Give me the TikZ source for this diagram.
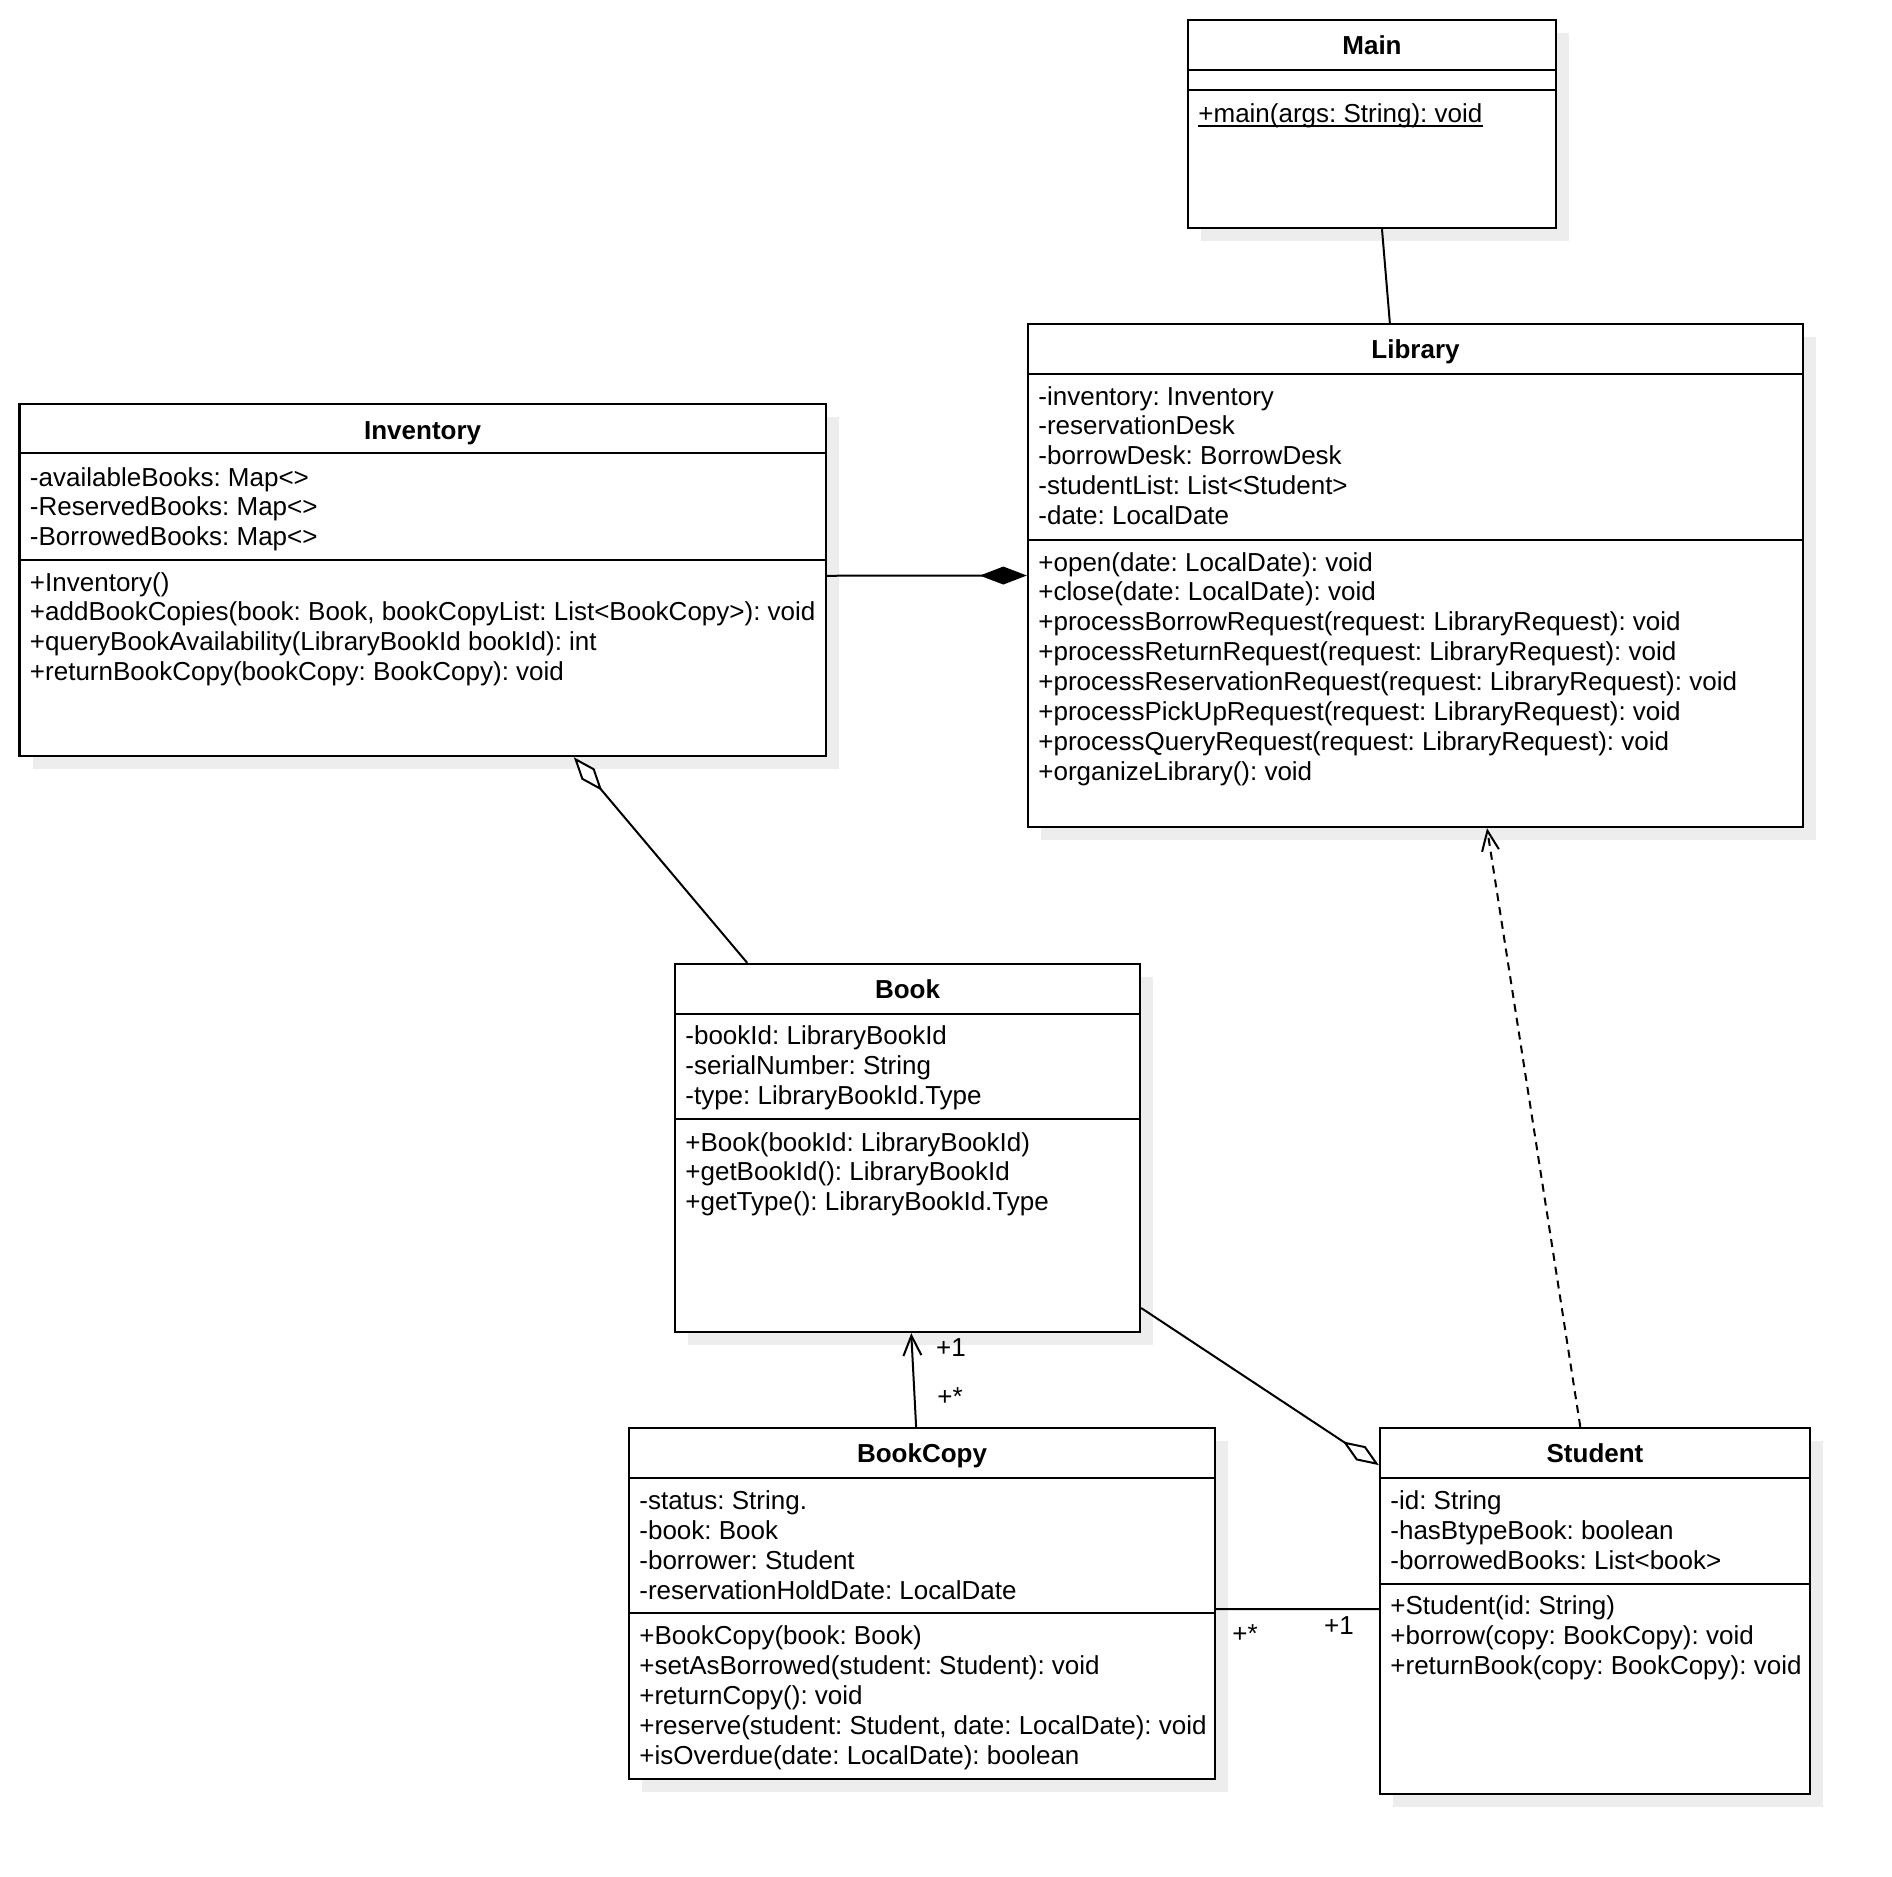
\documentclass[tikz,border=0pt]{standalone}
\usepackage{fontspec}
\setmainfont{Liberation Sans}
\usetikzlibrary{arrows.meta,calc,fit,shadows}
\begin{document}
\frenchspacing
\begin{tikzpicture}[x=0.5pt,y=-0.5pt,
  cbox/.style={draw, line width=1.2pt, fill=white, inner sep=0pt,
    drop shadow={shadow xshift=6.5pt, shadow yshift=-6.5pt, fill=black!7, opacity=1}},
  sepline/.style={line width=1.2pt},
  txt/.style={anchor=base west, inner sep=0pt, font=\fontsize{13pt}{15pt}\selectfont\frenchspacing, yshift=-1pt},
  hdr/.style={anchor=base, inner sep=0pt, font=\fontsize{13pt}{15pt}\selectfont\bfseries, yshift=-1.2pt},
  lbl/.style={inner sep=0pt, font=\fontsize{13pt}{15pt}\selectfont},
  conn/.style={line width=1pt},
  depline/.style={line width=1pt, dash pattern=on 4pt off 3pt}
]
\useasboundingbox (0,0) rectangle (1892,1876);

% ---------- Main ----------
\node[cbox, fit={(1188,20)(1556,228)}] (main) {};
\draw[sepline] (1188,70) -- (1556,70);
\draw[sepline] (1188,90) -- (1556,90);
\node[hdr] (main-h) at (1372,52) {Main};
\node[txt] (main-m1) at (1198,120) {+main(args: String): void};
\draw[line width=1pt] ([yshift=-2.2pt]main-m1.base west) -- ([yshift=-2.2pt]main-m1.base east);

% ---------- Library ----------
\node[cbox, fit={(1028,324)(1803,827)}] (lib) {};
\draw[sepline] (1028,374) -- (1803,374);
\draw[sepline] (1028,540) -- (1803,540);
\node[hdr] (lib-h) at (1415.5,356) {Library};
\node[txt] (lib-a1) at (1038,403) {-inventory: Inventory};
\node[txt] (lib-a2) at (1038,432.8) {-reservationDesk};
\node[txt] (lib-a3) at (1038,462.6) {-borrowDesk: BorrowDesk};
\node[txt] (lib-a4) at (1038,492.4) {-studentList: List<Student>};
\node[txt] (lib-a5) at (1038,522.2) {-date: LocalDate};
\node[txt] (lib-m1) at (1038,569) {+open(date: LocalDate): void};
\node[txt] (lib-m2) at (1038,598.9) {+close(date: LocalDate): void};
\node[txt] (lib-m3) at (1038,628.7) {+processBorrowRequest(request: LibraryRequest): void};
\node[txt] (lib-m4) at (1038,658.6) {+processReturnRequest(request: LibraryRequest): void};
\node[txt] (lib-m5) at (1038,688.4) {+processReservationRequest(request: LibraryRequest): void};
\node[txt] (lib-m6) at (1038,718.3) {+processPickUpRequest(request: LibraryRequest): void};
\node[txt] (lib-m7) at (1038,748.1) {+processQueryRequest(request: LibraryRequest): void};
\node[txt] (lib-m8) at (1038,778) {+organizeLibrary(): void};

% ---------- Inventory ----------
\node[cbox, fit={(19.6,404)(825.7,756)}] (inv) {};
\draw[sepline] (19.6,453) -- (825.7,453);
\draw[sepline] (19.6,560) -- (825.7,560);
\node[hdr] (inv-h) at (422.6,437) {Inventory};
\node[txt] (inv-a1) at (29.6,484) {-availableBooks: Map<>};
\node[txt] (inv-a2) at (29.6,513.5) {-ReservedBooks: Map<>};
\node[txt] (inv-a3) at (29.6,543) {-BorrowedBooks: Map<>};
\node[txt] (inv-m1) at (29.6,589) {+Inventory()};
\node[txt] (inv-m2) at (29.6,618.8) {+addBookCopies(book: Book, bookCopyList: List<BookCopy>): void};
\node[txt] (inv-m3) at (29.6,648.6) {+queryBookAvailability(LibraryBookId bookId): int};
\node[txt] (inv-m4) at (29.6,678.4) {+returnBookCopy(bookCopy: BookCopy): void};

% ---------- Book ----------
\node[cbox, fit={(675,964)(1140,1332)}] (book) {};
\draw[sepline] (675,1014) -- (1140,1014);
\draw[sepline] (675,1119) -- (1140,1119);
\node[hdr] (book-h) at (907.5,996.5) {Book};
\node[txt] (book-a1) at (685,1042.5) {-bookId: LibraryBookId};
\node[txt] (book-a2) at (685,1072.2) {-serialNumber: String};
\node[txt] (book-a3) at (685,1102) {-type: LibraryBookId.Type};
\node[txt] (book-m1) at (685,1149) {+Book(bookId: LibraryBookId)};
\node[txt] (book-m2) at (685,1178.7) {+getBookId(): LibraryBookId};
\node[txt] (book-m3) at (685,1208.5) {+getType(): LibraryBookId.Type};

% ---------- BookCopy ----------
\node[cbox, fit={(629,1428)(1215,1779)}] (bc) {};
\draw[sepline] (629,1478) -- (1215,1478);
\draw[sepline] (629,1613) -- (1215,1613);
\node[hdr] (bc-h) at (922,1460) {BookCopy};
\node[txt] (bc-a1) at (639,1507) {-status: String.};
\node[txt] (bc-a2) at (639,1537) {-book: Book};
\node[txt] (bc-a3) at (639,1567) {-borrower: Student};
\node[txt] (bc-a4) at (639,1597) {-reservationHoldDate: LocalDate};
\node[txt] (bc-m1) at (639,1642.5) {+BookCopy(book: Book)};
\node[txt] (bc-m2) at (639,1672.4) {+setAsBorrowed(student: Student): void};
\node[txt] (bc-m3) at (639,1702.3) {+returnCopy(): void};
\node[txt] (bc-m4) at (639,1732.2) {+reserve(student: Student, date: LocalDate): void};
\node[txt] (bc-m5) at (639,1762) {+isOverdue(date: LocalDate): boolean};

% ---------- Student ----------
\node[cbox, fit={(1380,1428)(1810,1794)}] (stu) {};
\draw[sepline] (1380,1478) -- (1810,1478);
\draw[sepline] (1380,1584) -- (1810,1584);
\node[hdr] (stu-h) at (1595,1460) {Student};
\node[txt] (stu-a1) at (1390,1507) {-id: String};
\node[txt] (stu-a2) at (1390,1537) {-hasBtypeBook: boolean};
\node[txt] (stu-a3) at (1390,1567) {-borrowedBooks: List<book>};
\node[txt] (stu-m1) at (1390,1612) {+Student(id: String)};
\node[txt] (stu-m2) at (1390,1642) {+borrow(copy: BookCopy): void};
\node[txt] (stu-m3) at (1390,1672) {+returnBook(copy: BookCopy): void};

% ---------- Connectors ----------
\draw[conn] ($(main.south west)!0.527!(main.south east)$) -- ($(lib.north west)!0.467!(lib.north east)$);
\draw[conn, -{Diamond[length=23.5pt,width=9pt]}]
  ($(inv.north east)!0.488!(inv.south east)$) -- ($(lib.north west)!0.5!(lib.south west)$);
\draw[conn, -{Diamond[open,fill=white,length=22pt,width=8.5pt]}]
  ($(book.north west)!0.157!(book.north east)$) -- ($(inv.south west)!0.687!(inv.south east)$);
\draw[conn, -{Straight Barb[length=10pt,width=9pt]}]
  ($(bc.north west)!0.49!(bc.north east)$) -- ($(book.south west)!0.508!(book.south east)$);
\node[lbl] (lbl-b1) at (951,1348) {+1};
\node[lbl] (lbl-bs) at (950,1397) {+*};
\draw[conn, -{Diamond[open,fill=white,length=21.5pt,width=8.5pt]}]
  ($(book.north east)!0.932!(book.south east)$) -- ($(stu.north west)!0.104!(stu.south west)$);
\draw[conn] ($(bc.north east)!0.516!(bc.south east)$) -- ($(stu.north west)!0.495!(stu.south west)$);
\node[lbl] (lbl-cs) at (1245,1634) {+*};
\node[lbl] (lbl-c1) at (1339,1626) {+1};
\draw[depline, -{Straight Barb[length=10pt,width=8.5pt]}]
  ($(stu.north west)!0.466!(stu.north east)$) -- ($(lib.south west)!0.592!(lib.south east)$);
\end{tikzpicture}
\end{document}
